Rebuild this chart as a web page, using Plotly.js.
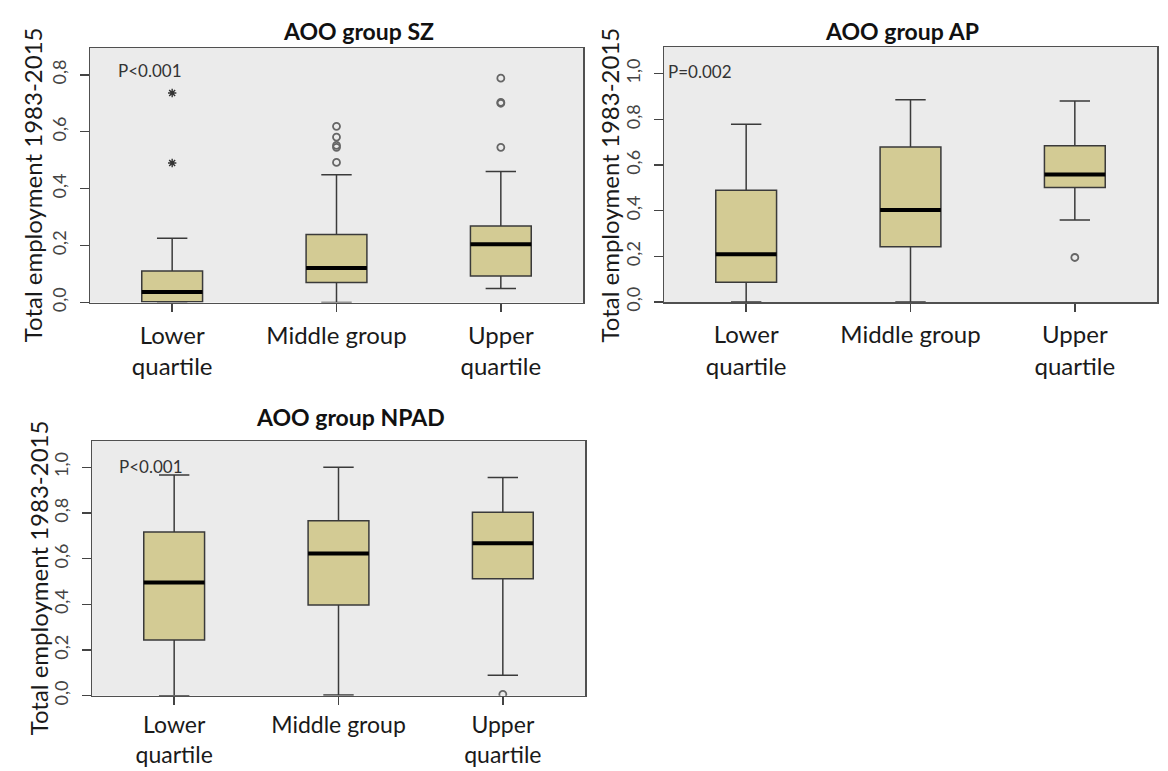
<!DOCTYPE html>
<html><head><meta charset="utf-8">
<script src="https://cdn.plot.ly/plotly-3.0.1.min.js"></script>
<style>html,body{margin:0;padding:0;background:#fff}</style>
</head><body><div id="chart" style="width:1168px;height:771px"></div>
<script>
// ---------- data ----------
const categories = ["Lower<br>quartile", "Middle group", "Upper<br>quartile"];
const panelTitles = ["AOO group SZ", "AOO group AP", "AOO group NPAD"];
const pValues = ["P<0.001", "P=0.002", "P<0.001"];
const yTitle = "Total employment 1983-2015";
const yTickVals = [0, 0.2, 0.4, 0.6, 0.8, 1.0];
const yTickText = ["0,0", "0,2", "0,4", "0,6", "0,8", "1,0"];

// AOO group SZ
const szLowerFence = [0.000, 0.000, 0.049];
const szQ1         = [0.003, 0.070, 0.093];
const szMedian     = [0.037, 0.121, 0.205];
const szQ3         = [0.111, 0.239, 0.269];
const szUpperFence = [0.226, 0.449, 0.460];
const szOutlierCat = [1, 1, 1, 1, 1, 2, 2, 2, 2];
const szOutlierVal = [0.619, 0.581, 0.552, 0.545, 0.492, 0.788, 0.700, 0.703, 0.545];
const szExtremeCat = [0, 0];
const szExtremeVal = [0.736, 0.490];

// AOO group AP
const apLowerFence = [0.000, 0.000, 0.359];
const apQ1         = [0.086, 0.242, 0.502];
const apMedian     = [0.209, 0.403, 0.559];
const apQ3         = [0.490, 0.679, 0.684];
const apUpperFence = [0.779, 0.886, 0.880];
const apOutlierCat = [2];
const apOutlierVal = [0.195];

// AOO group NPAD
const npLowerFence = [0.000, 0.003, 0.090];
const npQ1         = [0.244, 0.397, 0.512];
const npMedian     = [0.496, 0.623, 0.667];
const npQ3         = [0.717, 0.766, 0.803];
const npUpperFence = [0.966, 1.000, 0.955];
const npOutlierCat = [2];
const npOutlierVal = [0.006];

// ---------- styling / layout ----------
const W = 1168, H = 771;
const px = v => v / W, py = v => 1 - v / H;
const FONT = "Lato, 'Open Sans', sans-serif";
const boxW = 0.37;
const fill = "rgb(211,203,148)";
const edge = "#3a3a3a";

const panels = [
  {lf: szLowerFence, q1: szQ1, med: szMedian, q3: szQ3, uf: szUpperFence,
   oc: szOutlierCat, ov: szOutlierVal, ec: szExtremeCat, ev: szExtremeVal,
   x0: 90, x1: 583, y0: 48, y1: 302.5, ymax: 0.894, tx: 358, ty: 31, ax: 32, pX: 116, pY: 70,
   xfs: 24, xso: 3},
  {lf: apLowerFence, q1: apQ1, med: apMedian, q3: apQ3, uf: apUpperFence,
   oc: apOutlierCat, ov: apOutlierVal, ec: [], ev: [],
   x0: 664, x1: 1157, y0: 47, y1: 302, ymax: 1.117, tx: 902, ty: 31, ax: 609, pX: 666, pY: 71,
   xfs: 24, xso: 3},
  {lf: npLowerFence, q1: npQ1, med: npMedian, q3: npQ3, uf: npUpperFence,
   oc: npOutlierCat, ov: npOutlierVal, ec: [], ev: [],
   x0: 92, x1: 585, y0: 441, y1: 695.7, ymax: 1.115, tx: 350, ty: 417, ax: 38, pX: 117, pY: 467,
   xfs: 23, xso: 0}
];

const traces = [];
const layout = {
  width: W, height: H, margin: {l: 0, r: 0, t: 0, b: 0},
  paper_bgcolor: "#fff", plot_bgcolor: "#EBEBEB", showlegend: false,
  font: {family: FONT, color: "#222"},
  annotations: []
};

panels.forEach((p, i) => {
  const n = i === 0 ? "" : String(i + 1);
  const xa = "x" + n, ya = "y" + n;
  const xs = categories.map((_, k) => k);
  traces.push({
    type: "box", xaxis: xa, yaxis: ya, x: xs,
    q1: p.q1, median: p.med, q3: p.q3, lowerfence: p.lf, upperfence: p.uf,
    boxpoints: false, width: boxW, whiskerwidth: 0.5,
    fillcolor: fill, line: {color: edge, width: 1.5}, hoverinfo: "skip"
  });
  // thick median bars
  const mx = [], my = [];
  p.med.forEach((m, k) => { mx.push(k - boxW / 2, k + boxW / 2, null); my.push(m, m, null); });
  traces.push({type: "scatter", mode: "lines", xaxis: xa, yaxis: ya, x: mx, y: my,
    line: {color: "#000", width: 4}, hoverinfo: "skip"});
  if (p.ov.length) traces.push({type: "scatter", mode: "markers", xaxis: xa, yaxis: ya,
    x: p.oc, y: p.ov, marker: {symbol: "circle-open", size: 7, color: "#666", line: {width: 1.8, color: "#666"}},
    hoverinfo: "skip"});
  if (p.ev.length) traces.push({type: "scatter", mode: "markers", xaxis: xa, yaxis: ya,
    x: p.ec, y: p.ev, marker: {symbol: "asterisk-open", size: 7, color: "#333", line: {width: 1.4, color: "#333"}},
    hoverinfo: "skip"});

  layout["xaxis" + n] = {
    domain: [px(p.x0), px(p.x1)], anchor: ya, range: [-0.5, 2.5],
    tickvals: xs, ticktext: categories, ticks: "outside", ticklen: 8, tickwidth: 1.5, tickcolor: "#444",
    showline: true, mirror: true, linecolor: "#505050", linewidth: 1.5,
    showgrid: false, zeroline: false, ticklabelstandoff: p.xso,
    tickfont: {family: FONT, size: p.xfs, color: "#1a1a1a"}, fixedrange: true
  };
  layout["yaxis" + n] = {
    domain: [py(p.y1), py(p.y0)], anchor: xa, range: [0, p.ymax],
    tickvals: yTickVals, ticktext: yTickText, tickangle: -90,
    ticks: "outside", ticklen: 9, tickwidth: 1.5, tickcolor: "#444",
    showline: true, mirror: true, linecolor: "#505050", linewidth: 1.5,
    showgrid: false, zeroline: false, ticklabelstandoff: 6,
    tickfont: {family: FONT, size: 18, color: "#444"}, fixedrange: true
  };
  layout.annotations.push(
    {xref: "paper", yref: "paper", x: px(p.tx), y: py(p.ty), xanchor: "center", yanchor: "middle",
     text: "<b>" + panelTitles[i] + "</b>", showarrow: false, font: {family: FONT, size: 23, color: "#111"}},
    {xref: "paper", yref: "paper", x: px(p.ax), y: py((p.y0 + p.y1) / 2 + 10), xanchor: "center", yanchor: "middle",
     text: yTitle, textangle: -90, showarrow: false, font: {family: FONT, size: 24, color: "#1a1a1a"}},
    {xref: "paper", yref: "paper", x: px(p.pX), y: py(p.pY), xanchor: "left", yanchor: "middle",
     text: pValues[i], showarrow: false, font: {family: FONT, size: 17, color: "#333"}}
  );
});

Plotly.newPlot("chart", traces, layout, {staticPlot: true, displayModeBar: false});
</script></body></html>
